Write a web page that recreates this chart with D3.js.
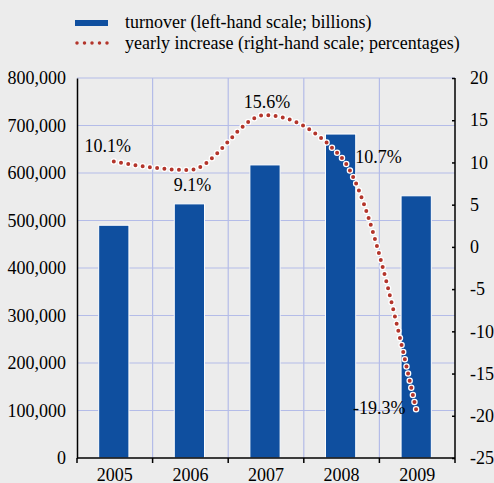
<!DOCTYPE html>
<html>
<head>
<meta charset="utf-8">
<script src="https://cdn.jsdelivr.net/npm/d3@7"></script>
<style>
  body { margin: 0; background: #ececec; }
  svg { display: block; }
  svg text { font-family: "Liberation Serif", "DejaVu Serif", serif; fill: #000; }
</style>
</head>
<body>
<div id="container"></div>
<script>
/* DATA */
const years = ["2005", "2006", "2007", "2008", "2009"];
const turnover = [490000, 535000, 617000, 682000, 552000];
const increase = [10.1, 9.1, 15.6, 10.7, -19.3];
const leftTicks = [0, 100000, 200000, 300000, 400000, 500000, 600000, 700000, 800000];
const rightTicks = [-25, -20, -15, -10, -5, 0, 5, 10, 15, 20];

/* SIZES */
const W = 494, H = 483;
const margin = {top: 78, right: 39, bottom: 25, left: 77};
const width = W - margin.left - margin.right,
    height = H - margin.top - margin.bottom;

const svg = d3.select("#container").append("svg")
    .attr("width", W)
    .attr("height", H);

svg.append("rect").attr("width", W).attr("height", H).attr("fill", "#ececec");

const g = svg.append("g")
    .attr("transform", "translate(" + margin.left + "," + margin.top + ")");

/* SCALES */
const x = d3.scaleBand().domain(years).range([0, width]).padding(0);
const y = d3.scaleLinear().domain([0, 800000]).range([height, 0]);
const y2 = d3.scaleLinear().domain([-25, 20]).range([height, 0]);

/* GRID */
const gridColor = "#b4bce8";
g.selectAll(".hgrid").data(leftTicks.filter(d => d > 0))
  .enter().append("line")
    .attr("x1", 0).attr("x2", width)
    .attr("y1", d => y(d)).attr("y2", d => y(d))
    .attr("stroke", gridColor).attr("stroke-width", 1.2);

g.selectAll(".vgrid").data(years.slice(1))
  .enter().append("line")
    .attr("x1", d => x(d)).attr("x2", d => x(d))
    .attr("y1", 0).attr("y2", height)
    .attr("stroke", gridColor).attr("stroke-width", 1.2);

/* BARS */
const bw = x.bandwidth() * 0.4;
g.selectAll(".bar").data(years)
  .enter().append("rect")
    .attr("x", (d, i) => x(d) + x.bandwidth() / 2 - bw / 2 - 1)
    .attr("y", (d, i) => y(turnover[i]))
    .attr("width", bw)
    .attr("height", (d, i) => height - y(turnover[i]))
    .attr("fill", "#0f4f9f")
    .attr("stroke", "#ffffff")
    .attr("stroke-width", 1);

/* LINE */
const pts = years.map((d, i) => [x(d) + x.bandwidth() / 2 - 1, y2(increase[i])]);
const line = d3.line().curve(d3.curveMonotoneX);

g.append("path")
    .attr("d", line(pts))
    .attr("fill", "none")
    .attr("stroke", "#ffffff")
    .attr("stroke-width", 6.5)
    .attr("stroke-linecap", "round")
    .attr("stroke-dasharray", "0 7.3");

g.append("path")
    .attr("d", line(pts))
    .attr("fill", "none")
    .attr("stroke", "#b3352b")
    .attr("stroke-width", 4)
    .attr("stroke-linecap", "round")
    .attr("stroke-dasharray", "0 7.3");

/* POINT LABELS */
const labelOffsets = [[-6, -16], [3, 15], [2, -13], [38, 0], [-37, -2]];
g.selectAll(".plabel").data(years)
  .enter().append("text")
    .attr("x", (d, i) => pts[i][0] + labelOffsets[i][0])
    .attr("y", (d, i) => pts[i][1] + labelOffsets[i][1])
    .attr("text-anchor", "middle")
    .attr("dy", "0.35em")
    .style("font-size", "18px")
    .text((d, i) => d3.format(".1f")(increase[i]).replace("−", "-") + "%");

/* AXES */
const left = g.append("g")
    .call(d3.axisLeft(y).tickValues(leftTicks).tickSize(0).tickPadding(11).tickFormat(d3.format(",")));
left.attr("font-family", null);
left.select(".domain").attr("stroke", "#000").attr("stroke-width", 1.5);
left.selectAll("text").style("font-size", "18px");

const right = g.append("g")
    .attr("transform", "translate(" + width + ",0)")
    .call(d3.axisRight(y2).tickValues(rightTicks).tickSize(-3).tickPadding(15).tickFormat(d => d3.format("d")(d).replace("−", "-")));
right.attr("font-family", null);
right.select(".domain").attr("stroke", "#000").attr("stroke-width", 1.5).attr("d", "M0,0V" + height);
right.selectAll(".tick line").attr("stroke", "#000").attr("stroke-width", 1.5);
right.selectAll("text").style("font-size", "18px");

const bottom = g.append("g")
    .attr("transform", "translate(0," + height + ")")
    .call(d3.axisBottom(x).tickSize(0).tickPadding(10));
bottom.attr("font-family", null);
bottom.select(".domain").attr("stroke", "#000").attr("stroke-width", 1.5).attr("d", "M0,0H" + width);
bottom.selectAll("text").style("font-size", "18px");
bottom.selectAll(".bound").data(x.domain().concat(["end"]))
  .enter().append("line")
    .attr("x1", (d, i) => i < years.length ? x(d) : width)
    .attr("x2", (d, i) => i < years.length ? x(d) : width)
    .attr("y1", 0).attr("y2", 5)
    .attr("stroke", "#000").attr("stroke-width", 1.5);

/* LEGEND */
const legend = svg.append("g").attr("transform", "translate(75,0)");
legend.append("rect")
    .attr("x", 0).attr("y", 20).attr("width", 33).attr("height", 6)
    .attr("fill", "#0f4f9f");
legend.append("text")
    .attr("x", 50).attr("y", 28)
    .style("font-size", "18px")
    .text("turnover (left-hand scale; billions)");
legend.append("line")
    .attr("x1", 2).attr("x2", 34).attr("y1", 43).attr("y2", 43)
    .attr("stroke", "#b3352b").attr("stroke-width", 3.5)
    .attr("stroke-linecap", "round").attr("stroke-dasharray", "0 7.5");
legend.append("text")
    .attr("x", 50).attr("y", 49)
    .style("font-size", "18px")
    .text("yearly increase (right-hand scale; percentages)");
</script>
</body>
</html>
